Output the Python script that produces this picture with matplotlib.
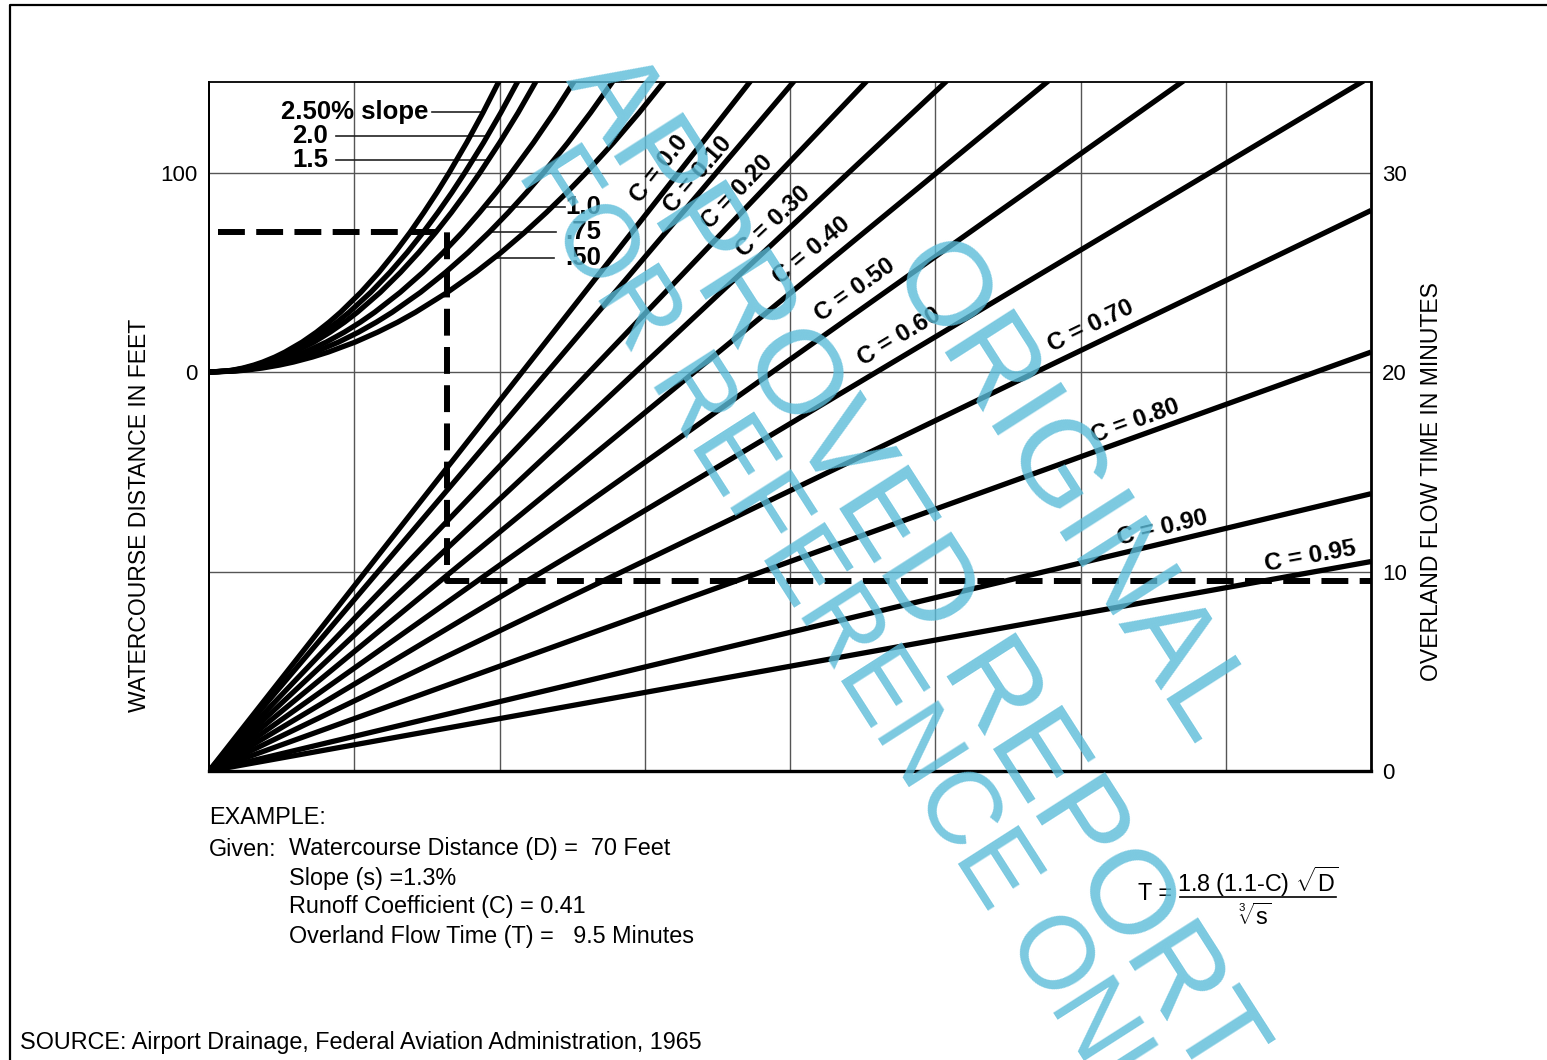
import math
import matplotlib
matplotlib.use('Agg')
import matplotlib.pyplot as plt
from matplotlib.lines import Line2D

plt.rcParams['font.family'] = ['Liberation Sans', 'DejaVu Sans']
plt.rcParams['mathtext.fontset'] = 'custom'
plt.rcParams['mathtext.rm'] = 'Liberation Sans'
plt.rcParams['mathtext.it'] = 'Liberation Sans'
plt.rcParams['mathtext.default'] = 'regular'

W, H = 1547, 1060

# upper panel: slope curves, x position (grid columns) at each watercourse distance (ft)
dist_levels = [0, 0.5, 1, 2, 3.5, 5, 7.5, 10, 15, 20, 25, 30, 40, 50, 60, 70, 80, 90,
               100, 115, 130, 150]
curve_250 = [0, 0.117, 0.165, 0.234, 0.309, 0.370, 0.453, 0.523, 0.641, 0.740, 0.827,
             0.906, 1.046, 1.170, 1.281, 1.384, 1.479, 1.569, 1.654, 1.774, 1.886, 2.026]
curve_200 = [0, 0.125, 0.176, 0.249, 0.330, 0.394, 0.483, 0.557, 0.682, 0.788, 0.881,
             0.965, 1.114, 1.246, 1.365, 1.474, 1.576, 1.672, 1.762, 1.890, 2.009, 2.158]
curve_150 = [0, 0.132, 0.187, 0.264, 0.349, 0.417, 0.511, 0.590, 0.723, 0.834, 0.933,
             1.022, 1.180, 1.319, 1.445, 1.561, 1.669, 1.770, 1.866, 2.001, 2.128, 2.285]
curve_100 = [0, 0.147, 0.208, 0.295, 0.390, 0.466, 0.570, 0.659, 0.807, 0.932, 1.042,
             1.141, 1.317, 1.473, 1.613, 1.743, 1.863, 1.976, 2.083, 2.234, 2.375, 2.551]
curve_075 = [0, 0.163, 0.230, 0.326, 0.431, 0.515, 0.631, 0.729, 0.892, 1.030, 1.152,
             1.262, 1.457, 1.629, 1.785, 1.928, 2.061, 2.186, 2.304, 2.471, 2.627, 2.822]
curve_050 = [0, 0.184, 0.260, 0.367, 0.486, 0.581, 0.711, 0.821, 1.006, 1.161, 1.299,
             1.422, 1.642, 1.836, 2.012, 2.173, 2.323, 2.464, 2.597, 2.785, 2.961, 3.181]
slope_curves = [curve_250, curve_200, curve_150, curve_100, curve_075, curve_050]

# lower panel: runoff coefficient rays from origin, end point (column, minutes)
c_labels = ['C = 0.0', 'C = 0.10', 'C = 0.20', 'C = 0.30', 'C = 0.40', 'C = 0.50',
            'C = 0.60', 'C = 0.70', 'C = 0.80', 'C = 0.90', 'C = 0.95']
ray_end_x = [3.73, 4.03, 4.53, 5.08, 5.78, 6.71, 7.95, 8, 8, 8, 8]
ray_end_t = [34.6, 34.6, 34.6, 34.6, 34.6, 34.6, 34.6, 28.1, 21.0, 13.9, 10.5]

# worked example
ex_dist = 70
ex_x = 1.64
ex_time = 9.5

t_ticks = [0, 10, 20, 30]
d_ticks = [0, 100]


def t_to_d(t):
    return (t - 20) * 10


def d_to_t(d):
    return d / 10 + 20


fig = plt.figure(figsize=(W / 100, H / 100), dpi=100)
ax = fig.add_axes([209 / W, 1 - 771 / H, (1371 - 209) / W, (771 - 82) / H])
ax.set_xlim(0, 8)
ax.set_ylim(0, 34.54)


def px(xp, yp):
    return ax.transData.inverted().transform((xp, H - yp))


def fxy(xp, yp):
    return xp / W, 1 - yp / H


# grid / axes
ax.set_xticks(range(1, 8))
ax.set_yticks(t_ticks)
ax.yaxis.tick_right()
ax.tick_params(axis='x', length=0, labelbottom=False)
ax.tick_params(axis='y', length=0, labelsize=16, pad=8)
ax.grid(True, color='#555555', lw=1.0)
ax.set_axisbelow(True)
ax.spines['bottom'].set_linewidth(2.4)
ax.spines['right'].set_linewidth(2.0)
ax.spines['top'].set_linewidth(1.3)
ax.spines['left'].set_linewidth(1.4)

sec = ax.secondary_yaxis('left', functions=(t_to_d, d_to_t))
sec.set_yticks(d_ticks)
sec.tick_params(length=0, labelsize=16, pad=8)
sec.spines['left'].set_linewidth(1.4)

# slope curves
for xs in slope_curves:
    ax.plot(xs, [d_to_t(d) for d in dist_levels], color='black', lw=3.8,
            solid_capstyle='butt', solid_joinstyle='round', zorder=3)

# runoff rays
for i in range(len(c_labels)):
    ax.plot([0, ray_end_x[i]], [0, ray_end_t[i]], color='black', lw=3.8,
            solid_capstyle='butt', zorder=3)

# example dashed path
ax.plot([0.062, ex_x, ex_x, 8], [d_to_t(ex_dist), d_to_t(ex_dist), ex_time, ex_time],
        color='black', lw=4.3, dashes=(4.5, 1.9), dash_capstyle='butt', zorder=4)

# ray labels
c_pos = [(659, 169), (698, 175), (737, 192), (773, 222), (812, 251), (855, 290),
         (899, 337), (1091, 326), (1135, 421), (1162, 528), (1310, 556)]
p0 = ax.transData.transform((0, 0))
for i, lab in enumerate(c_labels):
    p1 = ax.transData.transform((ray_end_x[i], ray_end_t[i]))
    ang = math.degrees(math.atan2(p1[1] - p0[1], p1[0] - p0[0]))
    fig.text(*fxy(*c_pos[i]), lab, rotation=ang,
             rotation_mode='anchor', ha='center', va='center',
             fontsize=17.5, fontweight='bold', zorder=5)

# slope labels with leaders
left_labels = [('2.50% slope', 428, 112, 432, 483),
               ('2.0', 328, 136, 336, 487),
               ('1.5', 328, 160, 336, 488)]
for txt, xr, yp, l0, l1 in left_labels:
    fig.text(*fxy(xr, yp), txt, ha='right', va='center',
             fontsize=18.5, fontweight='bold')
    a, b = px(l0, yp), px(l1, yp)
    ax.plot([a[0], b[0]], [a[1], b[1]], color='#222222', lw=1.2, zorder=2)

right_labels = [('1.0', 207, 483, 565),
                ('.75', 232, 490, 556),
                ('.50', 258, 495, 554)]
for txt, yp, l0, l1 in right_labels:
    fig.text(*fxy(565, yp), txt, ha='left', va='center',
             fontsize=18.5, fontweight='bold')
    a, b = px(l0, yp), px(l1, yp)
    ax.plot([a[0], b[0]], [a[1], b[1]], color='#222222', lw=1.2, zorder=2)

# axis titles
fig.text(*fxy(140, 515), 'WATERCOURSE DISTANCE IN FEET', rotation=90,
         ha='center', va='center', fontsize=16.6)
fig.text(*fxy(1432, 482), 'OVERLAND FLOW TIME IN MINUTES', rotation=90,
         ha='center', va='center', fontsize=16.6)

# example text
fig.text(*fxy(209, 817), 'EXAMPLE:', ha='left', va='center', fontsize=16.8)
fig.text(*fxy(209, 849), 'Given:', ha='left', va='center', fontsize=16.8)
example_lines = ['Watercourse Distance (D) =  70 Feet',
                 'Slope (s) =1.3%',
                 'Runoff Coefficient (C) = 0.41',
                 'Overland Flow Time (T) =   9.5 Minutes']
for line, yp in zip(example_lines, [849, 879, 907, 936]):
    fig.text(*fxy(289, yp), line, ha='left', va='center', fontsize=16.8)

# formula
fig.text(*fxy(1138, 893), 'T =', ha='left', va='center', fontsize=16.8)
fig.text(*fxy(1258, 882), r'1.8 (1.1-C) $\sqrt{D}$', ha='center', va='center',
         fontsize=16.8)
fig.text(*fxy(1255, 917), r'$\sqrt[3]{s}$', ha='center', va='center', fontsize=16.8)
fig.add_artist(Line2D([1180 / W, 1336 / W], [1 - 897 / H, 1 - 897 / H],
                      transform=fig.transFigure, color='black', lw=1.2))

fig.text(*fxy(20, 1043),
         'SOURCE: Airport Drainage, Federal Aviation Administration, 1965',
         ha='left', va='center', fontsize=16.8)

# watermark
wm_style = dict(rotation=-57.4, rotation_mode='anchor', va='center',
                color='#5bbcd9', alpha=0.8, zorder=10)
fig.text(*fxy(1066, 494), 'ORIGINAL', fontsize=86, ha='center', **wm_style)
fig.text(*fxy(912, 566), 'APPROVED REPORT', fontsize=86, ha='center', **wm_style)
fig.text(*fxy(538, 159), 'FOR REFERENCE ONLY', fontsize=74, ha='left', **wm_style)

# page frame
fig.add_artist(Line2D([10 / W, 10 / W, 1], [0, 1 - 5 / H, 1 - 5 / H],
                      transform=fig.transFigure, color='black', lw=1.6))

fig.savefig('out.png', dpi=100)
